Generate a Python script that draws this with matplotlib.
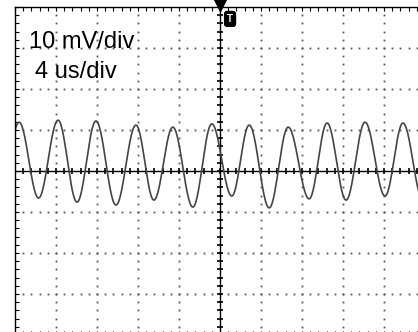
import numpy as np
import matplotlib.pyplot as plt

plt.rcParams['font.family'] = ['Liberation Sans', 'DejaVu Sans']

# scope settings
volts_per_div = 10.0   # mV/div
time_per_div = 4.0     # us/div

# peaks and troughs of the trace (time in us, level in mV)
t_ext = [-21.5, -19.6, -17.7, -15.8, -13.95, -12.1, -10.15, -8.2, -6.45, -4.6,
         -2.65, -0.8, 1.15, 2.85, 4.8, 6.65, 8.7, 10.45, 12.3, 14.15, 16.1,
         17.85, 19.8]
v_ext = [-7.0, 11.9, -6.6, 12.4, -7.6, 12.2, -8.3, 11.2, -7.1, 10.7,
         -8.8, 11.5, -6.1, 11.2, -9.0, 10.7, -6.8, 11.7, -7.1, 11.9, -6.1,
         11.7, -7.0]


def trace(ts, vs, n=30):
    # join the extrema with half-cosine segments
    xs, ys = [], []
    for i in range(len(ts) - 1):
        s = np.linspace(0, 1, n, endpoint=False)
        w = (1 - np.cos(np.pi * s)) / 2
        xs.append(ts[i] + (ts[i + 1] - ts[i]) * s)
        ys.append(vs[i] + (vs[i + 1] - vs[i]) * w)
    xs.append([ts[-1]])
    ys.append([vs[-1]])
    return np.concatenate(xs), np.concatenate(ys)


xmax = 5 * time_per_div
ymax = 4 * volts_per_div

fig = plt.figure(figsize=(4.18, 3.32), dpi=100)
ax = fig.add_axes([15 / 418, -3 / 332, 410 / 418, 328 / 332])
ax.set_xlim(-xmax, xmax)
ax.set_ylim(-ymax, ymax)

for sp in ax.spines.values():
    sp.set_linewidth(1.0)
    sp.set_color('black')

ax.set_xticks(np.arange(-xmax, xmax + 0.01, time_per_div))
ax.set_xticks(np.arange(-xmax, xmax + 0.01, time_per_div / 5), minor=True)
ax.set_yticks(np.arange(-ymax, ymax + 0.01, volts_per_div))
ax.set_yticks(np.arange(-ymax, ymax + 0.01, volts_per_div / 5), minor=True)
ax.tick_params(which='both', direction='in', top=True, right=True,
               labelbottom=False, labelleft=False, length=3, width=0.8)

# dotted graticule
ydots = np.arange(-ymax, ymax + 0.01, volts_per_div / 5)
xdots = np.arange(-xmax, xmax + 0.01, time_per_div / 5)
for xv in np.arange(-xmax + time_per_div, xmax, time_per_div):
    if abs(xv) < 1e-6:
        continue
    ax.plot(np.full(len(ydots), xv), ydots, ls='none', marker='s', ms=1.3,
            color='#555555', mew=0)
for yv in np.arange(-ymax + volts_per_div, ymax, volts_per_div):
    if abs(yv) < 1e-6:
        continue
    ax.plot(xdots, np.full(len(xdots), yv), ls='none', marker='s', ms=1.3,
            color='#555555', mew=0)

# center cross with ticks
ax.axhline(0, color='black', lw=1.0)
ax.axvline(0, color='black', lw=1.0)
ax.plot(xdots, np.zeros(len(xdots)), ls='none', marker='|', ms=5, mew=1.2,
        color='black')
ax.plot(np.zeros(len(ydots)), ydots, ls='none', marker='_', ms=5, mew=1.2,
        color='black')

# the signal
tx, vy = trace(t_ext, v_ext)
ax.plot(tx, vy, color='#444444', lw=1.2)

# trigger marker
ax.plot(0, ymax + 0.4, marker='v', ms=8, color='black', clip_on=False)
ax.text(0.98, 37.1, 'T', color='white', fontsize=7, fontweight='bold',
        ha='center', va='center',
        bbox=dict(boxstyle='round,pad=0.25', fc='black', ec='black'))

fig.text(29 / 418, 1 - 47.7 / 332, '10 mV/div', fontsize=17, va='baseline')
fig.text(35 / 418, 1 - 78.3 / 332, '4 us/div', fontsize=17, va='baseline')

fig.savefig('out.png', dpi=100)
